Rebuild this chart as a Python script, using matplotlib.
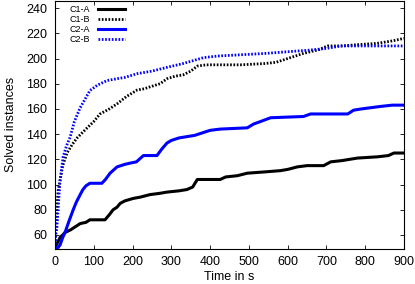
import matplotlib
matplotlib.use("Agg")
import matplotlib.pyplot as plt

plt.rcParams['font.family'] = ['Liberation Sans', 'DejaVu Sans']

# cumulative solved instances over time
c1a_t = [0, 5, 10, 13, 20, 26, 40, 50, 65, 80, 90, 129, 140, 150, 160, 168, 180, 202, 220, 245,
         270, 289, 320, 340, 355, 367, 426, 440, 470, 496, 540, 581, 600, 625, 650, 693, 711,
         740, 780, 832, 860, 874, 900]
c1a_n = [50, 53, 56, 58, 60, 62, 64, 66, 69, 70, 72, 72, 76, 80, 82, 85, 87, 89, 90, 92,
         93, 94, 95, 96, 98, 104, 104, 106, 107, 109, 110, 111, 112, 114, 115, 115, 118,
         119, 121, 122, 123, 125, 125]

c1b_t = [0, 2, 5, 8, 13, 20, 31, 45, 57, 70, 83, 100, 116, 140, 160, 185, 212, 230, 250, 271,
         289, 310, 330, 350, 367, 390, 420, 480, 540, 570, 600, 640, 680, 703, 740, 780, 830,
         870, 900]
c1b_n = [50, 65, 82, 95, 103, 115, 125, 132, 137, 141, 145, 150, 156, 160, 164, 170, 175, 176,
         178, 180, 184, 186, 187, 190, 194, 195, 195, 195, 196, 197, 200, 204, 207, 210, 210,
         211, 212, 214, 216]

c2a_t = [0, 8, 13, 20, 26, 35, 47, 55, 65, 72, 80, 90, 121, 130, 142, 160, 180, 194, 210, 228,
         263, 275, 289, 300, 320, 340, 360, 380, 400, 426, 496, 512, 530, 556, 641, 659, 755,
         770, 790, 840, 870, 900]
c2a_n = [50, 50, 52, 58, 62, 70, 80, 86, 92, 96, 99, 101, 101, 104, 109, 114, 116, 117, 118,
         123, 123, 128, 133, 135, 137, 138, 139, 141, 143, 144, 145, 148, 150, 153, 154, 156,
         156, 159, 160, 162, 163, 163]

c2b_t = [0, 2, 5, 9, 13, 21, 30, 39, 50, 65, 78, 90, 110, 134, 160, 180, 212, 250, 289, 330,
         383, 420, 480, 540, 600, 650, 700, 737, 900]
c2b_n = [50, 60, 66, 85, 103, 122, 131, 137.5, 150, 161, 168, 174.6, 179, 182.5, 184, 185,
         188, 190, 193, 196, 200.7, 202, 203, 204, 205.4, 206.5, 208, 210, 210]

fig = plt.figure(figsize=(4.15, 2.84), dpi=100)
ax = fig.add_axes([0.1325, 0.124, 0.841, 0.874])

dots = (0, (0.6, 0.6))
ax.plot(c1a_t, c1a_n, color='black', lw=2.2, label='C1-A')
ax.plot(c1b_t, c1b_n, color='black', lw=2.0, ls=dots, label='C1-B')
ax.plot(c2a_t, c2a_n, color='blue', lw=2.2, label='C2-A')
ax.plot(c2b_t, c2b_n, color='blue', lw=2.0, ls=dots, label='C2-B')

ax.set_xlim(0, 900)
ax.set_ylim(49, 246)
ax.set_xticks(range(0, 901, 100))
ax.set_yticks(range(60, 241, 20))
ax.tick_params(direction='in', top=True, right=True, length=3, width=0.6, labelsize=9)
ax.tick_params(axis='x', pad=5)
ax.tick_params(axis='y', pad=5.5)
for s in ax.spines.values():
    s.set_linewidth(0.8)

ax.set_xlabel('Time in s', fontsize=9, labelpad=2.5)
ax.set_ylabel('Solved instances', fontsize=9, labelpad=7)

ax.legend(loc='upper left', bbox_to_anchor=(0.04, 0.985), frameon=False, markerfirst=False,
          fontsize=6.5, labelspacing=0.1, handlelength=3.0, handletextpad=0.8,
          borderpad=0.1, borderaxespad=0)

fig.savefig('out.png', dpi=100)
